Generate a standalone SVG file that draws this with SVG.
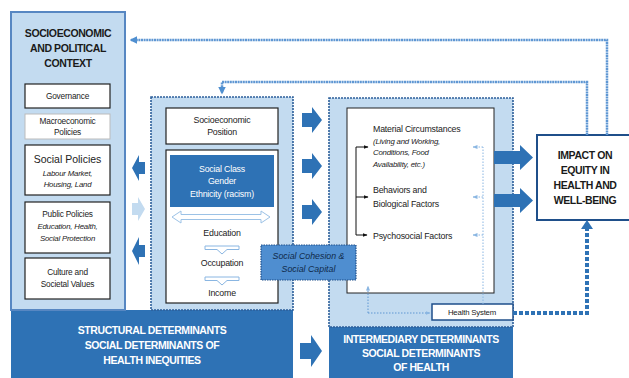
<svg xmlns="http://www.w3.org/2000/svg" width="629" height="378" viewBox="0 0 629 378">
<defs>
<style>
text{font-family:"Liberation Sans",Arial,sans-serif;text-anchor:middle}
.h{font-weight:bold;font-size:10.5px;letter-spacing:-0.4px;fill:#1a1a1a}
.hw{font-weight:bold;font-size:10.5px;letter-spacing:-0.4px;fill:#ffffff}
.s{font-size:8.3px;fill:#222;letter-spacing:-0.2px}
.si{font-size:7.8px;font-style:italic;fill:#222;letter-spacing:-0.2px}
.sw{font-size:8.8px;fill:#ffffff;letter-spacing:-0.2px}
.m{font-size:8.8px;fill:#222;letter-spacing:-0.2px}
.wbox{fill:#ffffff;stroke:#222;stroke-width:1.2}
.panel{fill:#c3dbf0;stroke:#2d5f9a;stroke-width:1.6;stroke-dasharray:2 1}
.dark{fill:#2e72b5}
.big{fill:#2e72b5}
.fb{fill:none;stroke:#5f97d3;stroke-width:2.5;stroke-dasharray:2 0.6}
.dot{fill:none;stroke:#8ab6e2;stroke-width:1;stroke-dasharray:1.5 1.5}
.thick{fill:none;stroke:#2e72b5;stroke-width:4;stroke-dasharray:4 2}
</style>
<marker id="ab" viewBox="0 0 10 10" refX="8" refY="5" markerWidth="3" markerHeight="3" orient="auto"><path d="M0,0 L10,5 L0,10 Z" fill="#4f8fd0"/></marker>
<marker id="ak" viewBox="0 0 10 10" refX="9" refY="5" markerWidth="5" markerHeight="5" orient="auto"><path d="M0,1 L10,5 L0,9 Z" fill="#111"/></marker>
<marker id="al" viewBox="0 0 10 10" refX="9" refY="5" markerWidth="5" markerHeight="5" orient="auto"><path d="M0,1 L10,5 L0,9 Z" fill="#8ab6e2"/></marker>
</defs>
<rect width="629" height="378" fill="#ffffff"/>

<g id="structural-band">
<rect x="11" y="310" width="282" height="68" class="dark"/>
<text class="hw" x="152" y="334">STRUCTURAL DETERMINANTS</text>
<text class="hw" x="152" y="349">SOCIAL DETERMINANTS OF</text>
<text class="hw" x="152" y="364">HEALTH INEQUITIES</text>
</g>
<g id="intermediary-band">
<rect x="329" y="327" width="184" height="51" class="dark"/>
<text class="hw" x="421" y="343">INTERMEDIARY DETERMINANTS</text>
<text class="hw" x="421" y="357">SOCIAL DETERMINANTS</text>
<text class="hw" x="421" y="371">OF HEALTH</text>
</g>

<g id="context">
<rect x="11" y="12" width="114" height="298" fill="#c3dbf0" stroke="#5787c2" stroke-width="2"/>
<text class="h" x="68" y="37">SOCIOECONOMIC</text>
<text class="h" x="68" y="52">AND POLITICAL</text>
<text class="h" x="68" y="67">CONTEXT</text>
</g>
<g id="governance">
<rect x="25" y="84" width="85" height="24" class="wbox"/>
<text class="s" x="67.5" y="99">Governance</text>
</g>
<g id="macroeconomic">
<rect x="25" y="114" width="85" height="25" fill="#fff" stroke="#bbb" stroke-width="1"/>
<text class="s" x="67.5" y="124">Macroeconomic</text>
<text class="s" x="67.5" y="135">Policies</text>
</g>
<g id="social-policies">
<rect x="25" y="145" width="85" height="50" class="wbox"/>
<text x="67.5" y="163" style="font-size:10.5px;fill:#222">Social Policies</text>
<text class="si" x="67.5" y="176">Labour Market,</text>
<text class="si" x="67.5" y="187">Housing, Land</text>
</g>
<g id="public-policies">
<rect x="25" y="202" width="85" height="51" class="wbox"/>
<text class="s" x="67.5" y="217">Public Policies</text>
<text class="si" x="67.5" y="229">Education, Health,</text>
<text class="si" x="67.5" y="241">Social Protection</text>
</g>
<g id="culture">
<rect x="25" y="258" width="85" height="41" class="wbox"/>
<text class="s" x="67.5" y="275">Culture and</text>
<text class="s" x="67.5" y="287">Societal Values</text>
</g>

<g id="structural-panel">
<rect x="151" y="97" width="142" height="213" class="panel"/>
</g>
<g id="socioeconomic-position">
<rect x="166" y="108" width="112" height="36" class="wbox"/>
<text class="m" x="222" y="123">Socioeconomic</text>
<text class="m" x="222" y="135">Position</text>
</g>
<g id="stratifiers">
<rect x="166" y="150" width="112" height="153" class="wbox"/>
<rect x="170" y="155" width="104" height="52" fill="#2e72b5"/>
<text class="sw" x="222" y="172">Social Class</text>
<text class="sw" x="222" y="184">Gender</text>
<text class="sw" x="222" y="197">Ethnicity (racism)</text>
<path d="M172,217 L181,211 L181,214.5 L261,214.5 L261,211 L270,217 L261,223 L261,219.5 L181,219.5 L181,223 Z" fill="#fff" stroke="#9cc2e6" stroke-width="1"/>
<text class="m" x="222" y="236">Education</text>
<path d="M205,246 L239,246 L239,249.5 L227,249.5 L222,254 L217,249.5 L205,249.5 Z" fill="#fff" stroke="#8ab6e2" stroke-width="1"/>
<text class="m" x="222" y="266">Occupation</text>
<path d="M205,277 L239,277 L239,280.5 L227,280.5 L222,285 L217,280.5 L205,280.5 Z" fill="#fff" stroke="#8ab6e2" stroke-width="1"/>
<text class="m" x="222" y="296">Income</text>
</g>

<g id="intermediary-panel">
<rect x="329" y="98" width="184" height="229" class="panel"/>
<rect x="347" y="108" width="147" height="185" fill="#fff" stroke="#222" stroke-width="1"/>
</g>
<g id="material">
<text class="m" x="373" y="132" style="text-anchor:start">Material Circumstances</text>
<text class="si" x="373" y="144" style="text-anchor:start">(Living and Working,</text>
<text class="si" x="373" y="155" style="text-anchor:start">Conditions, Food</text>
<text class="si" x="373" y="167" style="text-anchor:start">Availability, etc.)</text>
</g>
<g id="behaviors">
<text class="m" x="373" y="193" style="text-anchor:start">Behaviors and</text>
<text class="m" x="373" y="207" style="text-anchor:start">Biological Factors</text>
</g>
<g id="psychosocial">
<text class="m" x="373" y="239" style="text-anchor:start">Psychosocial Factors</text>
</g>
<g id="health-system">
<rect x="432" y="304" width="81" height="16" fill="#fff" stroke="#1f4f8a" stroke-width="1.5"/>
<text class="s" x="472" y="315" style="font-size:7.8px">Health System</text>
</g>
<g id="social-cohesion">
<rect x="261" y="245" width="95" height="35" fill="#4f8ed0" stroke="#1f4f8a" stroke-width="1.2" stroke-dasharray="1.5 1"/>
<text x="308.5" y="259" style="font-size:8.8px;font-style:italic;fill:#102a4a">Social Cohesion &amp;</text>
<text x="308.5" y="272" style="font-size:8.8px;font-style:italic;fill:#102a4a">Social Capital</text>
</g>
<g id="impact">
<rect x="537" y="135" width="94" height="85" fill="#fff" stroke="#1f4f8a" stroke-width="2"/>
<text class="h" x="585" y="159">IMPACT ON</text>
<text class="h" x="585" y="174">EQUITY IN</text>
<text class="h" x="585" y="189">HEALTH AND</text>
<text class="h" x="585" y="204">WELL-BEING</text>
</g>

<g id="connectors">
<path d="M132,168 L139,155 L139,162 L145,162 L145,174 L139,174 L139,181 Z" fill="#2e72b5"/>
<path d="M145,209 L138,197 L138,203 L132,203 L132,215 L138,215 L138,221 Z" fill="#c3dbf0"/>
<path d="M132,251 L139,237 L139,245 L145,245 L145,257 L139,257 L139,265 Z" fill="#2e72b5"/>
<path d="M302,113 L312,113 L312,107 L322,120 L312,133 L312,127 L302,127 Z" class="big"/>
<path d="M302,159 L312,159 L312,153 L322,166 L312,179 L312,173 L302,173 Z" class="big"/>
<path d="M302,205 L312,205 L312,199 L322,212 L312,225 L312,219 L302,219 Z" class="big"/>
<path d="M300,343 L311,343 L311,335 L322,351 L311,367 L311,359 L300,359 Z" class="big"/>
<path d="M494,151 L520,151 L520,145 L533,157.5 L520,170 L520,164 L494,164 Z" class="big"/>
<path d="M494,194 L520,194 L520,188 L533,200.5 L520,213 L520,207 L494,207 Z" class="big"/>
<path d="M607,135 L607,40 L131,40" class="fb" marker-end="url(#ab)"/>
<path d="M587,135 L587,82 L222,82 L222,93" class="fb" marker-end="url(#ab)"/>
<path d="M356,147 L356,235" fill="none" stroke="#111" stroke-width="1"/>
<path d="M356,147 L368,147" fill="none" stroke="#111" stroke-width="1" marker-end="url(#ak)"/>
<path d="M356,197 L368,197" fill="none" stroke="#111" stroke-width="1" marker-end="url(#ak)"/>
<path d="M356,235 L367,235" fill="none" stroke="#111" stroke-width="1" marker-end="url(#ak)"/>
<path d="M483,304 L483,147" class="dot"/>
<path d="M483,147 L473,147" class="dot" marker-end="url(#al)"/>
<path d="M483,197 L473,197" class="dot" marker-end="url(#al)"/>
<path d="M483,235 L473,235" class="dot" marker-end="url(#al)"/>
<path d="M368,313 L368,286" fill="none" stroke="#5f97d3" stroke-width="1" stroke-dasharray="1.5 1.5" marker-end="url(#al)"/>
<path d="M368,313 L430,313" fill="none" stroke="#5f97d3" stroke-width="1" stroke-dasharray="1.5 1.5" marker-end="url(#al)"/>
<path d="M513,313 L587,313 L587,228" class="thick"/>
<path d="M581,229 L587,220 L593,229 Z" fill="#2e72b5"/>
</g>
</svg>
